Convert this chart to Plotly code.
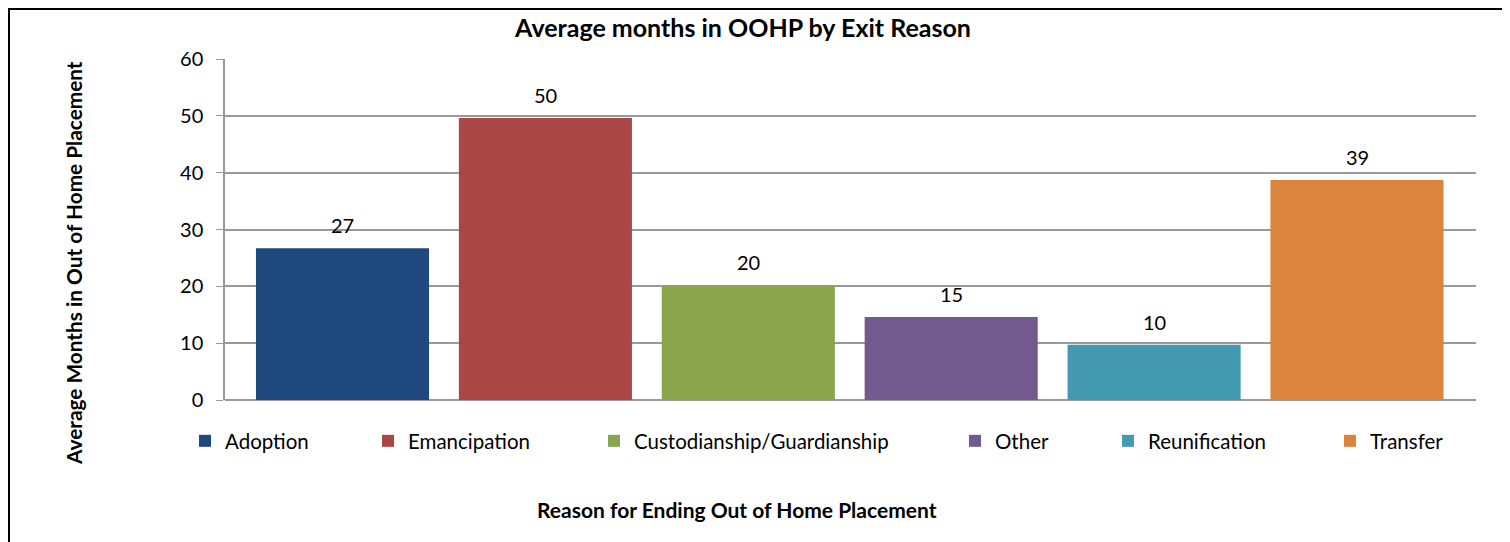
import plotly.graph_objects as go

categories = ["Adoption", "Emancipation", "Custodianship/Guardianship", "Other", "Reunification", "Transfer"]
values = [26.7, 49.6, 20.2, 14.6, 9.7, 38.7]
labels = ["27", "50", "20", "15", "10", "39"]
colors = ["#1F497D", "#AA4645", "#8BA54E", "#725A8E", "#4299B0", "#DB843D"]
y_ticks = [0, 10, 20, 30, 40, 50, 60]

FONT = "Lato, 'Open Sans', sans-serif"
OFF = 8  # page body margin
W, H = 1510 - OFF, 542 - OFF
# plot area in reference pixels: x 225..1476, y 59..400
L, T = 225 - OFF, 59 - OFF
R = W - (1476 - OFF)
B = H - (400 - OFF)
PW, PH = W - L - R, H - T - B

def px_x(p):
    return (p - OFF - L) / PW

def px_y(p):
    return (H - B - (p - OFF)) / PH

# category axis range so bar centres match the reference spacing
cat_px = 202.9
r0 = -(342.5 - 225) / cat_px
r1 = r0 + PW / cat_px

legend_text_x = [225, 408, 634, 995, 1148, 1370]

fig = go.Figure()
for i, (c, v, col) in enumerate(zip(categories, values, colors)):
    lg = "legend" if i == 0 else f"legend{i+1}"
    fig.add_trace(go.Bar(
        x=[c], y=[v], name=c, marker=dict(color=col, line=dict(width=0)),
        width=0.853, legend=lg, showlegend=True,
    ))
    fig.add_annotation(x=c, y=v, text=labels[i], showarrow=False,
                       yanchor="middle", yshift=23,
                       font=dict(family=FONT, size=20, color="#000000"))

legend_layout = {}
for i in range(len(categories)):
    key = "legend" if i == 0 else f"legend{i+1}"
    legend_layout[key] = dict(
        x=px_x(legend_text_x[i] - 40), y=px_y(441), xanchor="left", yanchor="middle",
        orientation="h", bgcolor="rgba(0,0,0,0)",
        font=dict(family=FONT, size=20.5, color="#000000"),
        itemclick=False, itemdoubleclick=False,
    )

fig.add_annotation(xref="paper", yref="paper", x=px_x(73), y=px_y(263),
                   text="<b>Average Months in Out of Home Placement</b>", textangle=-90,
                   showarrow=False, xanchor="center", yanchor="middle",
                   font=dict(family=FONT, size=20.8, color="#000000"))
fig.add_annotation(xref="paper", yref="paper", x=px_x(737), y=px_y(509),
                   text="<b>Reason for Ending Out of Home Placement</b>",
                   showarrow=False, xanchor="center", yanchor="middle",
                   font=dict(family=FONT, size=21, color="#000000"))

fig.update_layout(
    width=W, height=H,
    margin=dict(l=L, r=R, t=T, b=B, autoexpand=False),
    paper_bgcolor="white", plot_bgcolor="white",
    barmode="group",
    title=dict(text="<b>Average months in OOHP by Exit Reason</b>", xref="paper", x=px_x(743), xanchor="center",
               y=1 - (28 - OFF) / H, yanchor="middle",
               font=dict(family=FONT, size=25, color="#000000")),
    xaxis=dict(showticklabels=False, showline=False, ticks="", showgrid=False,
               categoryorder="array", categoryarray=categories, range=[r0, r1]),
    yaxis=dict(range=[0, 60], tickvals=y_ticks, ticks="outside", ticklen=7, tickcolor="#999999",
               showline=True, linecolor="#999999", linewidth=1.5,
               showgrid=True, gridcolor="#999999", gridwidth=1.5, zeroline=True, zerolinecolor="#999999",
               zerolinewidth=1.5, ticklabelstandoff=9,
               tickfont=dict(family=FONT, size=20, color="#000000")),
    shapes=[dict(type="rect", xref="paper", yref="paper",
                 x0=px_x(9), x1=px_x(1515), y0=px_y(590), y1=px_y(9),
                 line=dict(color="#000000", width=2), fillcolor="rgba(0,0,0,0)", layer="below")],
    **legend_layout,
)

fig.write_html("out.html")
